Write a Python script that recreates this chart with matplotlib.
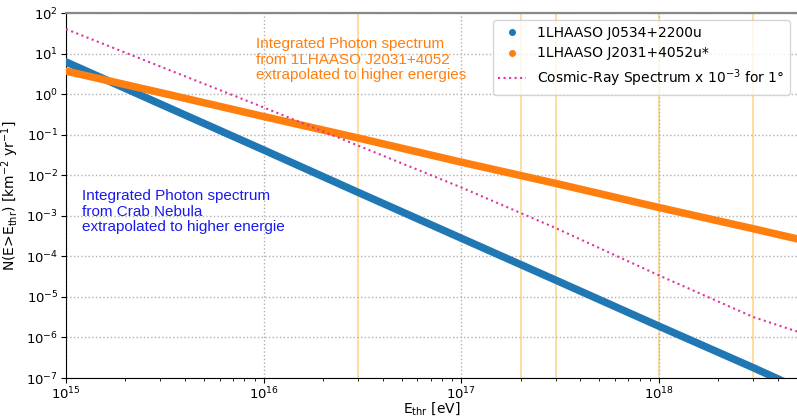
import matplotlib
matplotlib.use("Agg")
import matplotlib.pyplot as plt
from matplotlib.lines import Line2D
from matplotlib.ticker import NullLocator, LogLocator

e_thr = [1e15, 3e15, 1e16, 3e16, 1e17, 3e17, 1e18, 3e18, 5e18]

# integrated photon counts N(E>E_thr) [km^-2 yr^-1]
crab = [6.2, 0.57, 0.042, 3.8e-3, 2.8e-4, 2.6e-5, 1.9e-6, 1.8e-7, 5.8e-8]
j2031 = [3.7, 1.09, 0.28, 0.083, 0.021, 6.3e-3, 1.6e-3, 4.8e-4, 2.7e-4]
cosmic = [40, 4.8, 0.47, 0.054, 5.0e-3, 5.0e-4, 3.4e-5, 3.2e-6, 1.4e-6]

vlines = [3e16, 2e17, 3e17, 1e18, 3e18]

label_crab = "1LHAASO J0534+2200u"
label_j2031 = "1LHAASO J2031+4052u*"
label_cr = "Cosmic-Ray Spectrum x 10$^{-3}$ for 1°"

fig = plt.figure(figsize=(7.97, 4.16), dpi=100)
ax = fig.add_axes([66 / 797, 1 - 378 / 416, 731 / 797, 365 / 416])

for v in vlines:
    ax.axvline(v, color="orange", alpha=0.45, lw=1.2, zorder=1)

ax.plot(e_thr, crab, color="#1f77b4", lw=5.4, solid_capstyle="round", zorder=3)
ax.plot(e_thr, j2031, color="#ff7f0e", lw=5.4, solid_capstyle="round", zorder=3)
ax.plot(e_thr, cosmic, color="#e0359c", ls=":", lw=1.5, zorder=4)

ax.set_xscale("log")
ax.set_yscale("log")
ax.set_xlim(1e15, 5e18)
ax.set_ylim(1e-7, 1e2)
ax.yaxis.set_major_locator(LogLocator(base=10, numticks=20))
ax.yaxis.set_minor_locator(NullLocator())
ax.tick_params(labelsize=9.5, pad=2)

ax.grid(True, which="major", ls=":", color="#b0b0b0", lw=1)
ax.set_axisbelow(True)

ax.spines["right"].set_visible(False)
ax.spines["top"].set_color("#888888")
ax.spines["top"].set_linewidth(1.6)

ax.set_xlabel(r"E$_{\mathrm{thr}}$ [eV]", fontsize=10, labelpad=-1.5)
ax.set_ylabel(r"N(E>E$_{\mathrm{thr}}$) [km$^{-2}$ yr$^{-1}$]", fontsize=10, labelpad=4)

ax.text(0.26, 0.934, "Integrated Photon spectrum\nfrom 1LHAASO J2031+4052\nextrapolated to higher energies",
        transform=ax.transAxes, color="#ff7f0e", fontsize=11, family="Liberation Sans",
        va="top", ha="left", linespacing=1.15)
ax.text(0.0215, 0.518, "Integrated Photon spectrum\nfrom Crab Nebula\nextrapolated to higher energie",
        transform=ax.transAxes, color="#1a1aee", fontsize=11, family="Liberation Sans",
        va="top", ha="left", linespacing=1.15)

handles = [
    Line2D([], [], ls="none", marker="o", ms=4, color="#1f77b4"),
    Line2D([], [], ls="none", marker="o", ms=4, color="#ff7f0e"),
    Line2D([], [], ls=":", lw=1.5, color="#e0359c"),
]
ax.legend(handles, [label_crab, label_j2031, label_cr], loc="upper right", fontsize=10)

plt.savefig("out.png", dpi=100)
